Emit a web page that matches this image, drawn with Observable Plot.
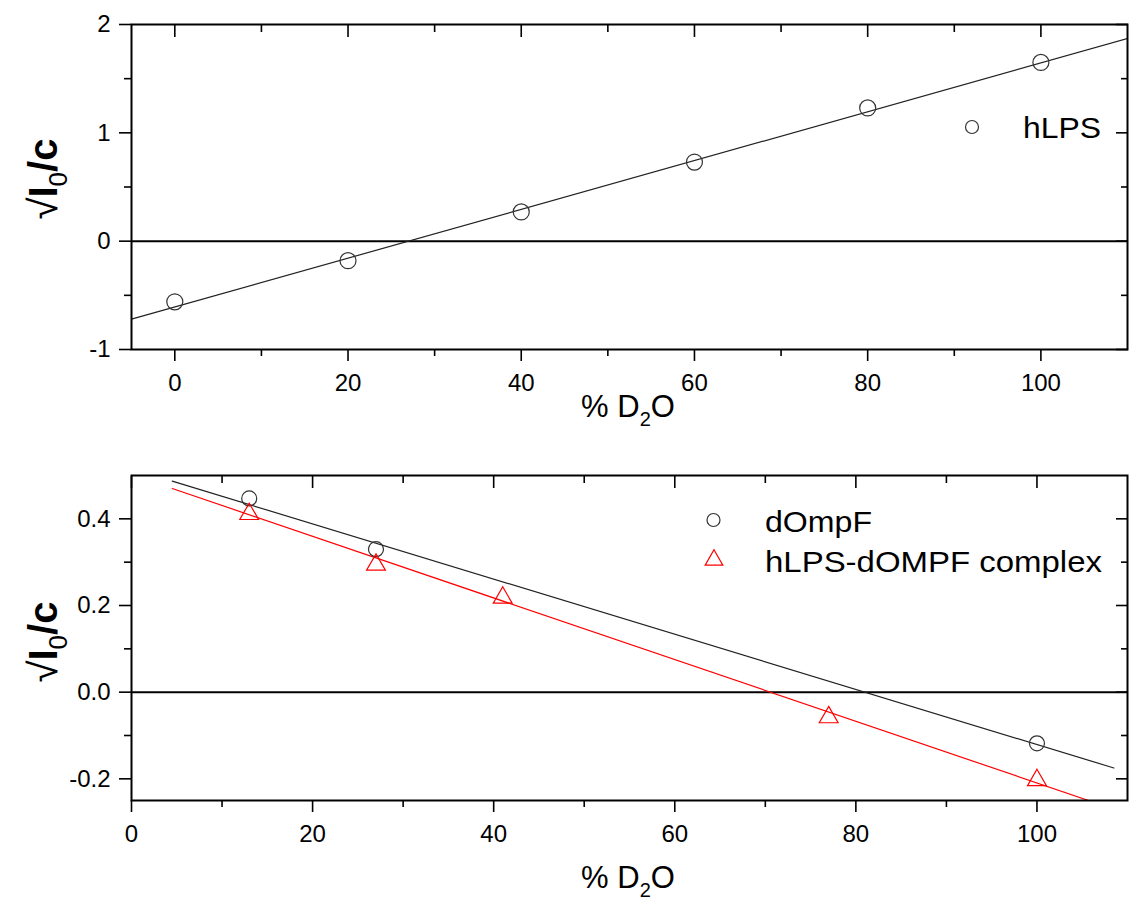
<!DOCTYPE html>
<html><head><meta charset="utf-8">
<script src="https://cdn.jsdelivr.net/npm/d3@7"></script>
<script src="https://cdn.jsdelivr.net/npm/@observablehq/plot@0.6"></script>
<style>
body{margin:0;background:#fff;width:1129px;height:907px;position:relative;overflow:hidden;font-family:"Liberation Sans",Arial,sans-serif}
#top{position:absolute;left:0;top:0}
#bottom{position:absolute;left:0;top:440px}
svg g[aria-label$="tick label"] text{font-size:24px !important}
</style></head><body>
<div id="top"></div><div id="bottom"></div>
<script>
// ---- top panel: hLPS ----
const hlpsX = [0, 20, 40, 60, 80, 100];
const hlpsY = [-0.56, -0.18, 0.27, 0.73, 1.23, 1.65];
const hlpsFitX = [-5, 110];
const hlpsFitY = [-0.72, 1.87];
const topXDomain = [-5, 110];
const topYDomain = [-1, 2];
const topXMajor = [0, 20, 40, 60, 80, 100];
const topXMinor = [10, 30, 50, 70, 90];
const topYMajor = [-1, 0, 1, 2];
const topYMinor = [-0.5, 0.5, 1.5];

// ---- bottom panel: dOmpF and complex ----
const dompfX = [13, 27, 100];
const dompfY = [0.447, 0.330, -0.118];
const complexX = [13, 27, 41, 77, 100];
const complexY = [0.411, 0.294, 0.218, -0.058, -0.203];
const dompfFitX = [4.5, 108.5];
const dompfFitY = [0.487, -0.175];
const complexFitX = [4.5, 105.7];
const complexFitY = [0.47, -0.25];
const botXDomain = [0, 110];
const botYDomain = [-0.25, 0.5];
const botXMajor = [0, 20, 40, 60, 80, 100];
const botXMinor = [10, 30, 50, 70, 90];
const botYMajor = [-0.2, 0, 0.2, 0.4];
const botYMinor = [-0.1, 0.1, 0.3];

const xTitle = ["% D", "2", "O"];
const yTitle = ["√", "I", "0", "/c"];
const topLegend = ["hLPS"];
const botLegend = ["dOmpF", "hLPS-dOMPF complex"];

const FONT = "Liberation Sans, Arial, sans-serif";
const pts = (xs, ys) => xs.map((x, i) => ({x, y: ys[i]}));

function axes(xMajor, xMinor, yMajor, yMinor, yFmt) {
  const sw = 1.6;
  return [
    Plot.axisX({anchor: "bottom", ticks: xMajor, tickSize: 12, tickPadding: 12, fontSize: 24, label: null, tickFormat: d => String(d), strokeWidth: sw}),
    Plot.axisX({anchor: "bottom", ticks: xMinor, tickSize: 7, tickFormat: () => "", label: null, strokeWidth: sw}),
    Plot.axisX({anchor: "top", ticks: xMajor, tickSize: -12, tickFormat: () => "", label: null, strokeWidth: sw}),
    Plot.axisX({anchor: "top", ticks: xMinor, tickSize: -7, tickFormat: () => "", label: null, strokeWidth: sw}),
    Plot.axisY({anchor: "left", ticks: yMajor, tickSize: 12, tickPadding: 9, fontSize: 24, label: null, tickFormat: yFmt, strokeWidth: sw}),
    Plot.axisY({anchor: "left", ticks: yMinor, tickSize: 7, tickFormat: () => "", label: null, strokeWidth: sw}),
    Plot.axisY({anchor: "right", ticks: yMajor, tickSize: -12, tickFormat: () => "", label: null, strokeWidth: sw}),
    Plot.axisY({anchor: "right", ticks: yMinor, tickSize: -7, tickFormat: () => "", label: null, strokeWidth: sw})
  ];
}

function addXTitle(svg, cx, baseline) {
  const t = d3.select(svg).append("text")
    .attr("x", cx).attr("y", baseline).attr("text-anchor", "middle")
    .attr("font-family", FONT).attr("font-size", 31).attr("fill", "black");
  t.append("tspan").text(xTitle[0]);
  t.append("tspan").attr("font-size", 20).attr("dy", 9).text(xTitle[1]);
  t.append("tspan").attr("dy", -9).text(xTitle[2]);
}

function addYTitle(svg, bx, cy) {
  const t = d3.select(svg).append("text")
    .attr("transform", `translate(${bx},${cy}) rotate(-90)`).attr("text-anchor", "middle")
    .attr("font-family", FONT).attr("font-size", 40).attr("fill", "black");
  t.append("tspan").text(yTitle[0]);
  t.append("tspan").attr("font-weight", "bold").text(yTitle[1]);
  t.append("tspan").attr("font-size", 26).attr("dy", 10).text(yTitle[2]);
  t.append("tspan").attr("font-weight", "bold").attr("dy", -10).text(yTitle[3]);
}

function legendText(g, x, y, size, len, s) {
  g.append("text").attr("x", x).attr("y", y).attr("text-anchor", "start")
    .attr("font-family", FONT).attr("font-size", size).attr("fill", "black")
    .attr("textLength", len).attr("lengthAdjust", "spacingAndGlyphs").text(s);
}

const style = {fontFamily: FONT, fontSize: "24px", color: "black", background: "white", overflow: "visible"};

const topPlot = Plot.plot({
  width: 1129, height: 440,
  marginLeft: 131, marginRight: 2, marginTop: 24, marginBottom: 91,
  x: {domain: topXDomain}, y: {domain: topYDomain},
  style,
  marks: [
    Plot.ruleY([0], {stroke: "black", strokeWidth: 2}),
    Plot.line(pts(hlpsFitX, hlpsFitY), {x: "x", y: "y", stroke: "#222", strokeWidth: 1.2, clip: true}),
    Plot.dot(pts(hlpsX, hlpsY), {x: "x", y: "y", r: 8, stroke: "#333", strokeWidth: 1.2, fill: "none"}),
    ...axes(topXMajor, topXMinor, topYMajor, topYMinor, d => String(d)),
    Plot.frame({stroke: "black", strokeWidth: 2})
  ]
});
document.getElementById("top").appendChild(topPlot);
addXTitle(topPlot, 628, 417);
addYTitle(topPlot, 57, 179);
{
  const g = d3.select(topPlot).append("g");
  g.append("circle").attr("cx", 972).attr("cy", 127).attr("r", 6.5).attr("fill", "none").attr("stroke", "#333").attr("stroke-width", 1.2);
  legendText(g, 1023, 138, 30, 78, topLegend[0]);
}

const botPlot = Plot.plot({
  width: 1129, height: 467,
  marginLeft: 131, marginRight: 2, marginTop: 35, marginBottom: 107,
  x: {domain: botXDomain}, y: {domain: botYDomain},
  style,
  marks: [
    Plot.ruleY([0], {stroke: "black", strokeWidth: 2}),
    Plot.line(pts(dompfFitX, dompfFitY), {x: "x", y: "y", stroke: "#222", strokeWidth: 1.2, clip: true}),
    Plot.line(pts(complexFitX, complexFitY), {x: "x", y: "y", stroke: "#ff0000", strokeWidth: 1.2, clip: true}),
    Plot.dot(pts(dompfX, dompfY), {x: "x", y: "y", r: 7.5, stroke: "#333", strokeWidth: 1.2, fill: "none"}),
    Plot.dot(pts(complexX, complexY), {x: "x", y: "y", r: 7, symbol: "triangle", stroke: "#ff0000", strokeWidth: 1.2, fill: "none"}),
    ...axes(botXMajor, botXMinor, botYMajor, botYMinor, d => d.toFixed(1)),
    Plot.frame({stroke: "black", strokeWidth: 2})
  ]
});
document.getElementById("bottom").appendChild(botPlot);
addXTitle(botPlot, 628, 448);
addYTitle(botPlot, 57, 202);
{
  const g = d3.select(botPlot).append("g");
  g.append("circle").attr("cx", 713.5).attr("cy", 80).attr("r", 6.5).attr("fill", "none").attr("stroke", "#333").attr("stroke-width", 1.2);
  legendText(g, 765, 92, 30, 107, botLegend[0]);
  g.append("path").attr("transform", "translate(714,120)").attr("d", d3.symbol(d3.symbolTriangle, 135)()).attr("fill", "none").attr("stroke", "#ff0000").attr("stroke-width", 1.2);
  legendText(g, 765, 132, 30, 337, botLegend[1]);
}
</script>
</body></html>
